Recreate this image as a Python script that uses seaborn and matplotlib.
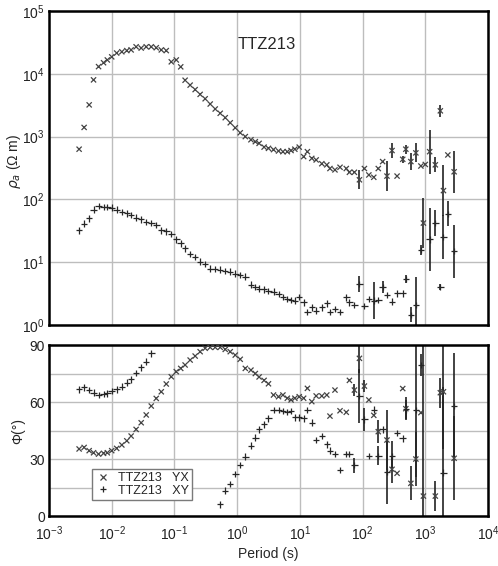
import numpy as np
import pandas as pd
import matplotlib
matplotlib.use("Agg")
import matplotlib.pyplot as plt
import seaborn as sns
from matplotlib.ticker import LogLocator, NullLocator, LogFormatterSciNotation

nan = np.nan

# Periodos (s)
periods = [0.00302, 0.00363, 0.00437, 0.00513, 0.00617, 0.00741, 0.00851, 0.0100, 0.0120, 0.0145,
           0.0174, 0.0204, 0.0245, 0.0295, 0.0355, 0.0427, 0.0513, 0.0617, 0.0741, 0.0891,
           0.107, 0.126, 0.148, 0.178, 0.214, 0.257, 0.309, 0.372, 0.447, 0.537,
           0.646, 0.776, 0.933, 1.12, 1.35, 1.66, 1.95, 2.24, 2.69, 3.16,
           3.80, 4.57, 5.37, 6.31, 7.24, 8.32, 9.77, 11.5, 13.2, 15.5,
           18.2, 22.4, 26.9, 30.2, 36.3, 43.7, 55.0, 61.7, 74.1, 89.1,
           107, 126, 151, 178, 209, 245, 295, 355, 437, 490,
           589, 708, 851, 933, 1000, 1175, 1445, 1738, 1950, 2291,
           2884]

# resistividad aparente (Ohm m)
rho_yx = [630, 1400, 3200, 8000, 13000, 15000, 16600, 18600, 21400, 22400,
          23400, 24000, 26900, 25700, 26900, 26900, 26000, 24000, 23400, 15500,
          16600, 12900, 7900, 6600, 5600, 4700, 4000, 3300, 2750, 2350,
          2000, 1660, 1380, 1150, 1000, 890, 830, 780, 680, 650,
          620, 590, 575, 575, 600, 630, 680, 480, 575, 450,
          425, 370, 355, 310, 295, 325, 310, 270, 270, 205,
          310, 245, 225, 310, 400, 235, 600, 235, 435, 630,
          400, 550, 340, 42, 360, 575, 355, 2570, 138, 510,
          275]
rho_xy = [32, 41, 50, 69, 79, 76, 76, 74, 69, 63,
          60, 56, 51, 48, 44, 42, 39, 32, 31, 28,
          23, 20, 16.6, 13.5, 12, 10.2, 9.3, 7.9, 7.8, 7.6,
          7.2, 7.1, 6.6, 6.3, 5.9, 4.4, 4.0, 3.8, 3.7, 3.5,
          3.4, 3.1, 2.8, 2.6, 2.5, 2.45, 2.8, 2.3, 1.6, 1.9,
          1.7, 1.9, 2.2, 1.6, 1.8, 1.6, 2.75, 2.3, 2.1, 4.5,
          2.0, 2.6, 2.45, 2.5, 4.0, 3.0, 2.35, 3.2, 3.2, 5.4,
          1.45, 2.1, 15.5, nan, nan, 23, 42, 4.0, 25, 59,
          15]
# errores en decadas
rho_yx_err = [0, 0, 0, 0, 0, 0, 0, 0, 0, 0,
              0, 0, 0, 0, 0, 0, 0, 0, 0, 0,
              0, 0, 0, 0, 0, 0, 0, 0, 0, 0,
              0, 0, 0, 0, 0, 0, 0, 0, 0, 0,
              0, 0, 0, 0, 0, 0, 0, 0, 0, 0,
              0, 0, 0, 0, 0, 0, 0, 0, 0, 0.15,
              0, 0, 0, 0, 0, 0.24, 0.12, 0, 0.06, 0.07,
              0.13, 0.15, 0, 0.4, 0, 0.35, 0.12, 0.1, 0.4, 0,
              0.33]
rho_xy_err = [0, 0, 0, 0, 0, 0, 0, 0, 0, 0,
              0, 0, 0, 0, 0, 0, 0, 0, 0, 0,
              0, 0, 0, 0, 0, 0, 0, 0, 0, 0,
              0, 0, 0, 0, 0, 0, 0, 0, 0, 0,
              0, 0, 0, 0, 0, 0, 0, 0, 0, 0,
              0, 0, 0, 0, 0, 0, 0, 0, 0, 0.13,
              0, 0, 0.3, 0, 0.1, 0, 0, 0, 0, 0.07,
              0.12, 0.44, 0.08, 0, 0, 0.5, 0.2, 0.05, 0.35, 0.2,
              0.42]

# fase (grados)
phi_yx = [35.3, 36.1, 34.4, 33.3, 32.6, 33.0, 33.3, 34.4, 35.6, 37.4,
          39.6, 42.1, 45.6, 49.1, 53.2, 57.9, 61.9, 65.4, 69.5, 73.3,
          76.0, 77.7, 79.5, 82.1, 84.2, 86.5, 88.3, 88.8, 88.8, 88.8,
          87.7, 86.5, 84.7, 82.5, 77.7, 76.8, 75.0, 73.2, 71.4, 69.6,
          63.7, 62.8, 63.7, 62.0, 61.1, 62.0, 62.8, 62.0, 67.2, 60.2,
          63.2, 63.2, 63.7, 52.6, 66.3, 55.4, 54.6, 71.4, 66.3, 83.0,
          68.4, 61.1, 53.0, 44.4, nan, 40.0, 24.6, 22.5, 67.1, 56.5,
          17.2, 30.0, 54.4, 10.5, nan, nan, 10.5, 64.9, 65.4, nan,
          30.4]
phi_xy = [66.7, 67.7, 66.3, 64.9, 63.7, 64.2, 64.6, 65.8, 66.7, 68.1,
          70.2, 71.9, 75.4, 78.3, 81.2, 85.6, nan, nan, nan, nan,
          nan, nan, nan, nan, nan, nan, nan, nan, nan, 6.2,
          13.3, 16.8, 22.1, 26.8, 31.2, 37.0, 41.2, 45.6, 48.3, 51.4,
          55.8, 55.8, 55.4, 54.7, 55.4, 51.9, 51.9, 51.4, 55.8, 49.1,
          40.0, 42.1, 37.7, 34.4, 32.6, 24.2, 32.6, 32.6, 26.8, 63.2,
          50.9, 31.6, 56.0, 31.6, 45.6, 23.3, 31.6, 43.8, 40.9, 56.1,
          nan, 55.8, 79.5, nan, nan, nan, nan, nan, 22.8, nan,
          57.9]
phi_yx_err = [0, 0, 0, 0, 0, 0, 0, 0, 0, 0,
              0, 0, 0, 0, 0, 0, 0, 0, 0, 0,
              0, 0, 0, 0, 0, 0, 0, 0, 0, 0,
              0, 0, 0, 0, 0, 0, 0, 0, 0, 0,
              0, 0, 0, 0, 0, 0, 0, 0, 0, 0,
              0, 0, 0, 0, 0, 0, 0, 0, 3, 7.5,
              3, 0, 0, 6, 0, 16, 7, 0, 0, 6,
              9, 14, 0, 80, 0, 0, 8, 8, 30, 0,
              22]
phi_xy_err = [0, 0, 0, 0, 0, 0, 0, 0, 0, 0,
              0, 0, 0, 0, 0, 0, 0, 0, 0, 0,
              0, 0, 0, 0, 0, 0, 0, 0, 0, 0,
              0, 0, 0, 0, 0, 0, 0, 0, 0, 0,
              0, 0, 0, 0, 0, 0, 0, 0, 0, 0,
              0, 0, 0, 0, 0, 0, 0, 0, 4, 14,
              6, 0, 0, 5, 0, 17, 8, 0, 0, 5,
              0, 35, 6, 0, 0, 0, 0, 0, 45, 0,
              28]

lab_yx = "TTZ213   YX"
lab_xy = "TTZ213   XY"

df = pd.concat([
    pd.DataFrame({"period": periods, "rho": rho_yx, "rho_err": rho_yx_err,
                  "phi": phi_yx, "phi_err": phi_yx_err, "mode": lab_yx}),
    pd.DataFrame({"period": periods, "rho": rho_xy, "rho_err": rho_xy_err,
                  "phi": phi_xy, "phi_err": phi_xy_err, "mode": lab_xy}),
], ignore_index=True)

sns.set_style("white")
plt.rcParams["font.family"] = ["Liberation Sans", "DejaVu Sans"]
plt.rcParams["mathtext.default"] = "regular"

fig = plt.figure(figsize=(4.98, 5.66), dpi=100)
ax1 = fig.add_axes([0.0984, 0.4258, 0.8815, 0.5548])
ax2 = fig.add_axes([0.0984, 0.0883, 0.8815, 0.3021])

mk = {lab_yx: "x", lab_xy: "+"}
sz = {lab_yx: 14, lab_xy: 22}
pal = {lab_yx: "#444444", lab_xy: "#262626"}

# errores
for mode, g in df.groupby("mode"):
    e = g[(g["rho_err"] > 0) & g["rho"].notna()]
    lo = e["rho"] - e["rho"] * 10 ** (-e["rho_err"])
    hi = e["rho"] * 10 ** e["rho_err"] - e["rho"]
    ax1.errorbar(e["period"], e["rho"], yerr=[lo, hi], fmt="none",
                 ecolor="#222222", elinewidth=1.2, capsize=0, zorder=2)
    e = g[(g["phi_err"] > 0) & g["phi"].notna()]
    ax2.errorbar(e["period"], e["phi"], yerr=e["phi_err"], fmt="none",
                 ecolor="#222222", elinewidth=1.2, capsize=0, zorder=2)

for ax, var, leg_on in ((ax1, "rho", False), (ax2, "phi", True)):
    sns.scatterplot(data=df, x="period", y=var, hue="mode", palette=pal,
                    style="mode", markers=mk, size="mode", sizes=sz,
                    linewidth=0.9, ax=ax, legend=leg_on, zorder=3)

for ax in (ax1, ax2):
    ax.set_xscale("log")
    ax.set_xlim(1e-3, 1e4)
    ax.xaxis.set_major_locator(LogLocator(base=10, numticks=20))
    ax.xaxis.set_minor_locator(NullLocator())
    ax.grid(True, which="major", color="#bdbdbd", lw=1)
    for s in ax.spines.values():
        s.set_linewidth(1.8)
        s.set_color("black")
    ax.tick_params(length=0, labelsize=10, pad=3, colors="#222222")
    ax.set_axisbelow(True)

ax1.set_yscale("log")
ax1.set_ylim(1, 1e5)
ax1.yaxis.set_major_locator(LogLocator(base=10, numticks=20))
ax1.yaxis.set_minor_locator(NullLocator())
ax1.yaxis.set_major_formatter(LogFormatterSciNotation())
ax1.set_xticklabels([])
ax1.set_xlabel("")
ax1.set_ylabel(r"$\it{\rho}_{a}$ ($\Omega$ m)", fontsize=10)
ax1.yaxis.set_label_coords(-0.06, 0.52)
ax1.text(0.497, 0.892, "TTZ213", transform=ax1.transAxes, ha="center",
         va="center", fontsize=12)

ax2.set_ylim(0, 90)
ax2.set_yticks([0, 30, 60, 90])
ax2.set_yticks([15, 45, 75], minor=True)
ax2.grid(True, which="minor", axis="y", color="#bdbdbd", lw=1)
ax2.xaxis.set_major_formatter(LogFormatterSciNotation())
ax2.tick_params(axis="x", pad=6)
ax2.set_xlabel("Period (s)", fontsize=10, labelpad=3)
ax2.set_ylabel("Φ(°)", fontsize=10)
ax2.yaxis.set_label_coords(-0.055, 0.5)

h, l = ax2.get_legend_handles_labels()
keep = [(hh, ll) for hh, ll in zip(h, l) if ll in (lab_yx, lab_xy)]
leg = ax2.legend([k[0] for k in keep], [k[1] for k in keep],
                 loc="lower left", bbox_to_anchor=(0.098, 0.094),
                 fontsize=9, frameon=True, fancybox=False, framealpha=1,
                 edgecolor="#7a7a7a", borderpad=0.25, labelspacing=0.05,
                 handletextpad=0.6, handlelength=1.2, borderaxespad=0)
leg.get_frame().set_linewidth(1.0)

fig.savefig("out.png", dpi=100)
